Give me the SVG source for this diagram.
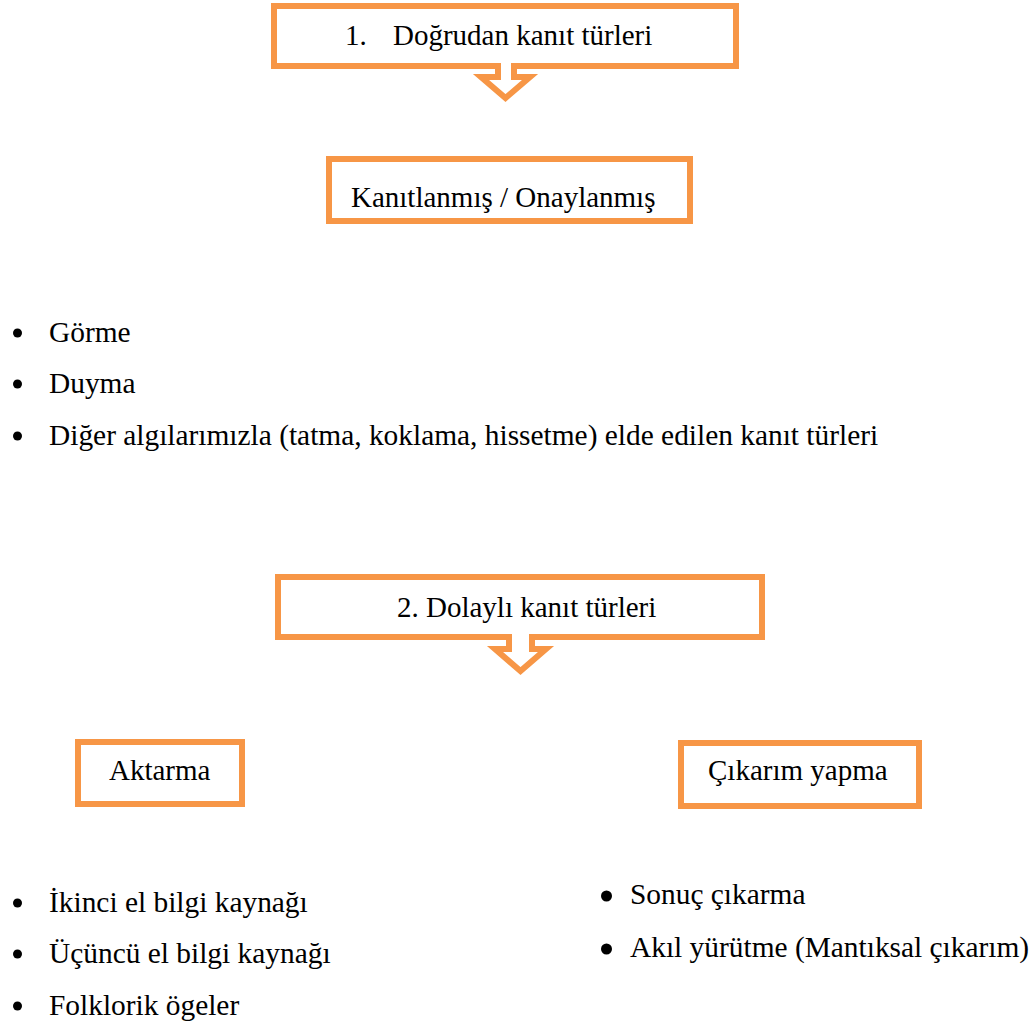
<svg xmlns="http://www.w3.org/2000/svg" width="1035" height="1027" viewBox="0 0 1035 1027">
<style>
.shape{fill:#fff;stroke:#F79646;stroke-width:6;stroke-linejoin:miter}
.t{font-family:"Liberation Serif","Times New Roman",serif;font-size:29px;fill:#000}
.l{font-size:29.4px}
.dot{fill:#000}
</style>
<rect width="1035" height="1027" fill="#fff"/>
<g id="connectors"></g>
<g id="node-dogrudan">
<path class="shape" d="M274,6 H736 V66 H514 V77 H530 L505.5,98 L481,77 H498 V66 H274 Z"/>
<text class="t" y="45"><tspan x="345">1.</tspan><tspan x="393">Doğrudan kanıt türleri</tspan></text>
</g>
<g id="node-kanitlanmis">
<rect class="shape" x="329" y="159" width="361" height="62"/>
<text class="t" x="351" y="207">Kanıtlanmış / Onaylanmış</text>
</g>
<g id="list-dogrudan">
<circle class="dot" cx="17.5" cy="333" r="4.5"/>
<text class="t l" x="49" y="342">Görme</text>
<circle class="dot" cx="17.5" cy="384" r="4.5"/>
<text class="t l" x="49" y="393">Duyma</text>
<circle class="dot" cx="17.5" cy="436" r="4.5"/>
<text class="t l" x="49" y="445">Diğer algılarımızla (tatma, koklama, hissetme) elde edilen kanıt türleri</text>
</g>
<g id="node-dolayli">
<path class="shape" d="M278,577 H762 V637 H532 V649 H546 L520.5,671 L495,649 H509 V637 H278 Z"/>
<text class="t" x="397" y="617">2. Dolaylı kanıt türleri</text>
</g>
<g id="node-aktarma">
<rect class="shape" x="78" y="742" width="164" height="62"/>
<text class="t" x="109" y="780">Aktarma</text>
</g>
<g id="node-cikarim">
<rect class="shape" x="681" y="743" width="238" height="63"/>
<text class="t" x="708" y="780">Çıkarım yapma</text>
</g>
<g id="list-aktarma">
<circle class="dot" cx="17.5" cy="903" r="4.5"/>
<text class="t l" x="49" y="912">İkinci el bilgi kaynağı</text>
<circle class="dot" cx="17.5" cy="954" r="4.5"/>
<text class="t l" x="49" y="963">Üçüncü el bilgi kaynağı</text>
<circle class="dot" cx="17.5" cy="1006" r="4.5"/>
<text class="t l" x="49" y="1015">Folklorik ögeler</text>
</g>
<g id="list-cikarim">
<circle class="dot" cx="606.5" cy="896" r="5.5"/>
<text class="t l" x="630" y="904">Sonuç çıkarma</text>
<circle class="dot" cx="606.5" cy="949" r="5.5"/>
<text class="t l" x="630" y="957">Akıl yürütme (Mantıksal çıkarım)</text>
</g>
</svg>
